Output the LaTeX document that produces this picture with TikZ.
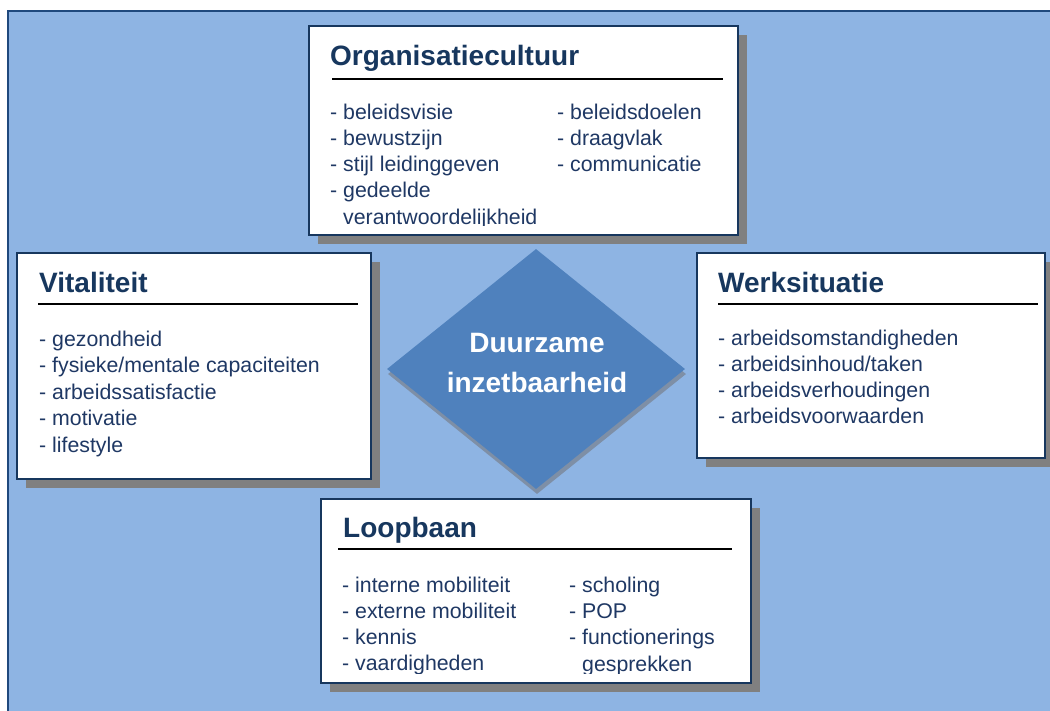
\documentclass[tikz,border=0pt]{standalone}
\usepackage{fontspec}
\setmainfont{Liberation Sans}
\usepackage{tikz}
\usetikzlibrary{shapes.geometric}
\usetikzlibrary{shadows}

\definecolor{achtergrond}{HTML}{8EB4E3}
\definecolor{rand}{HTML}{1F497D}
\definecolor{kaderrand}{HTML}{17375E}
\definecolor{titelkleur}{HTML}{17375E}
\definecolor{tekstkleur}{HTML}{1F3864}
\definecolor{schaduw}{HTML}{808080}
\definecolor{ruitkleur}{HTML}{4F81BD}
\definecolor{ruitschaduw}{HTML}{7E8FA6}

\begin{document}
\begin{tikzpicture}[x=1pt,y=-1pt,
    kader/.style={rectangle,draw=kaderrand,line width=1.5pt,fill=white,inner sep=0pt,
      drop shadow={shadow xshift=9pt,shadow yshift=-9pt,fill=schaduw,opacity=1}},
    titel/.style={anchor=base west,inner sep=0pt,text=titelkleur,font=\fontsize{28}{34}\selectfont\bfseries},
    punt/.style={anchor=base west,inner sep=0pt,text=tekstkleur,font=\fontsize{21.3}{26}\selectfont},
    streep/.style={line width=1.5pt,black}]

      \useasboundingbox (0,0) rectangle (1050,710);
      \clip (0,0) rectangle (1050,710);
      \fill[achtergrond] (7,10) rectangle (1060,720);
      \draw[rand,line width=2pt] (8,720) |- (1060,11);

      \node[kader,minimum width=429pt,minimum height=209pt] (org)  at (523.5,130.5) {};
      \node[kader,minimum width=354pt,minimum height=226pt] (vit)  at (194,366)     {};
      \node[kader,minimum width=348pt,minimum height=205pt] (werk) at (871,355.5)   {};

      \node[diamond,fill=ruitkleur,inner sep=0pt,minimum width=298pt,minimum height=240pt,
        drop shadow={shadow xshift=1pt,shadow yshift=-5pt,fill=ruitschaduw,opacity=1}] (ruit) at (536,369) {};
      \node[align=center,text=white,font=\fontsize{28}{40}\selectfont\bfseries] (ruittekst) at (537,363) {Duurzame\\inzetbaarheid};

      \node[kader,minimum width=430pt,minimum height=184pt] (loop) at (536,591)     {};

      \node[titel] (org-titel)  at (330,65)  {Organisatiecultuur};
      \node[titel] (vit-titel)  at (39,292)  {Vitaliteit};
      \node[titel] (werk-titel) at (718,292) {Werksituatie};
      \node[titel] (loop-titel) at (343,537) {Loopbaan};

      \draw[streep] (332,79)  -- (723,79);
      \draw[streep] (38,304)  -- (358,304);
      \draw[streep] (718,304) -- (1038,304);
      \draw[streep] (338,549) -- (732,549);

      \begin{scope}
        \clip (310,27) rectangle (737,225);
        \foreach \tekst [count=\i] in {beleidsvisie,bewustzijn,stijl leidinggeven,gedeelde}
          \node[punt] (org-a\i) at (330,{119+26.3*(\i-1)}) {- \tekst};
        \node[punt] (org-a5) at (343,224) {verantwoordelijkheid};
        \foreach \tekst [count=\i] in {beleidsdoelen,draagvlak,communicatie}
          \node[punt] (org-b\i) at (557,{119+26.3*(\i-1)}) {- \tekst};
      \end{scope}

      \foreach \tekst [count=\i] in {gezondheid,fysieke/mentale capaciteiten,arbeidssatisfactie,motivatie,lifestyle}
        \node[punt] (vit-\i) at (39,{346+26.5*(\i-1)}) {- \tekst};

      \foreach \tekst [count=\i] in {arbeidsomstandigheden,arbeidsinhoud/taken,arbeidsverhoudingen,arbeidsvoorwaarden}
        \node[punt] (werk-\i) at (718,{345+26.3*(\i-1)}) {- \tekst};

      \begin{scope}
        \clip (322,500) rectangle (750,673);
        \foreach \tekst [count=\i] in {interne mobiliteit,externe mobiliteit,kennis,vaardigheden}
          \node[punt] (loop-a\i) at (342,{592+26.3*(\i-1)}) {- \tekst};
        \foreach \tekst [count=\i] in {scholing,POP,functionerings}
          \node[punt] (loop-b\i) at (569,{592+26.3*(\i-1)}) {- \tekst};
        \node[punt] (loop-b4) at (582,671) {gesprekken};
      \end{scope}
    \end{tikzpicture}
\end{document}
